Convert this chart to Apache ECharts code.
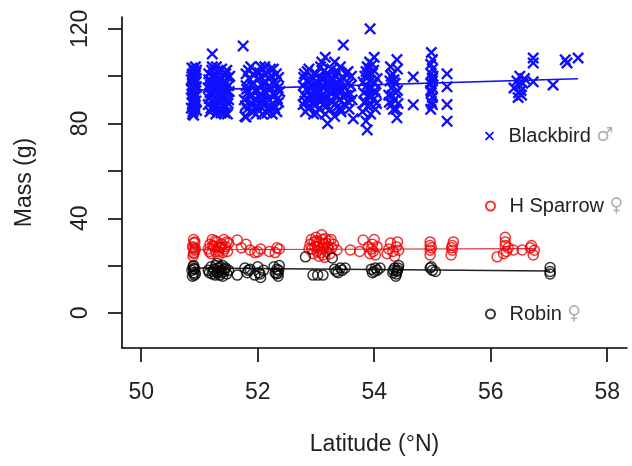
<!DOCTYPE html>
<html>
<head>
<meta charset="utf-8">
<script src="https://cdn.jsdelivr.net/npm/echarts@6/dist/echarts.min.js"></script>
<style>html,body{margin:0;padding:0;background:#fff}#c{width:632px;height:466px}</style>
</head>
<body>
<div id="c"></div>
<script>
// ---- data ----
var seriesNames = ['Blackbird', 'H Sparrow', 'Robin'];
var sexSymbols = ['♂', '♀', '♀'];
var xTicks = [50, 52, 54, 56, 58];
var yTicks = [0, 20, 40, 60, 80, 100, 120];
var yTickLabels = [0, 40, 80, 120];

var blackbird = [
[50.88,84],[50.9,86],[50.92,88],[50.89,90],[50.91,91],[50.9,93],[50.88,94],[50.93,95],[50.9,96],[50.91,97],[50.89,98],[50.92,99],[50.9,100],[50.88,101],[50.91,102],[50.9,103],[50.93,104],[50.89,85],[50.92,87],[50.9,89],[50.91,92],[50.88,96],[50.92,93],[50.9,99],
[50.86,86.5],[50.94,89.5],[50.87,92.5],[50.95,95.5],[50.86,98.5],[50.94,101.5],[50.87,103.5],[50.95,85.5],[50.88,88.5],[50.93,91.5],[50.86,94.5],[50.94,97.5],[50.88,100.5],[50.95,102.5],[50.9,83.5],
[51.15,88],[51.15,95],[51.16,101],[51.18,85],[51.2,92],[51.2,98],[51.22,104],[51.22,109.4],[51.24,87],[51.25,94],[51.26,100],[51.28,84],[51.3,90],[51.3,96],[51.31,102],[51.33,86],[51.35,93],[51.35,99],[51.37,89],[51.38,103],[51.4,85],[51.4,95],[51.42,91],[51.43,98],[51.45,87],[51.45,101],[51.47,93],[51.48,84],[51.5,96],[51.5,90],[51.52,100],[51.27,91],[51.33,97],[51.42,88],[51.18,93],[51.24,97],[51.38,94],[51.46,97],[51.29,104],[51.36,86],
[51.17,90.5],[51.19,96.5],[51.21,102.5],[51.23,89.5],[51.25,86.5],[51.27,99.5],[51.29,93.5],[51.31,87.5],[51.33,101.5],[51.35,95.5],[51.37,84.5],[51.39,91.5],[51.41,100.5],[51.43,86.5],[51.45,94.5],[51.47,102.5],[51.49,88.5],[51.51,93.5],[51.16,98.5],[51.2,86.5],[51.26,103],[51.34,90],[51.4,97.5],[51.46,90.5],[51.5,99.5],[51.3,98.5],[51.22,95],[51.44,84.5],
[51.75,112.8],[51.78,83],[51.77,90],[51.8,96],[51.8,101],[51.82,86],[51.83,93],[51.85,99],[51.87,88],[51.88,104],[51.9,92],[51.92,85],[51.93,97],[51.95,90],[51.97,102],[52.0,86],[52.0,94],[52.02,99],[52.04,89],[52.05,104],[52.07,92],[52.08,84],[52.1,97],[52.12,88],[52.13,101],[52.15,93],[52.17,86],[52.18,99],[52.2,90],[52.22,103],[52.23,95],[52.25,84],[52.27,88],[52.28,98],[52.3,92],[52.32,101],[52.33,85],[52.35,95],[52.36,89],[51.8,82.8],
[51.79,87.5],[51.81,94.5],[51.84,102.5],[51.86,91.5],[51.89,96.5],[51.91,88.5],[51.94,100.5],[51.96,94],[51.99,87.5],[52.01,91.5],[52.03,101.5],[52.06,96.5],[52.09,89.5],[52.11,93.5],[52.14,97.5],[52.16,84.5],[52.19,95.5],[52.21,87.5],[52.24,100],[52.26,92.5],[52.29,86.5],[52.31,96.5],[52.34,90.5],[52.36,99.5],[52.38,93.5],[51.97,84],[52.12,104],[52.27,103],
[52.78,88],[52.78,96],[52.8,92],[52.8,101],[52.82,85],[52.84,98],[52.86,90],[52.87,94],[52.88,103],[52.9,87],[52.92,96],[52.93,91],[52.95,99],[52.96,84],[52.98,93],[53.0,88],[53.0,101],[53.02,95],[53.04,90],[53.05,97],[53.06,86],[53.08,104],[53.1,92],[53.1,99],[53.12,88],[53.14,95],[53.16,108],[53.16,84],[53.18,101],[53.2,91],[53.22,97],[53.24,86],[53.25,93],[53.27,103],[53.28,89],[53.3,96],[53.32,83],[53.33,100],[53.35,92],[53.36,87],[53.38,97],[53.4,90],[53.42,104],[53.43,85],[53.45,94],[53.47,113.2],[53.47,99],[53.5,88],[53.52,92],[53.55,102],[53.57,86],[53.6,96],[53.62,90],[53.64,82],[53.1,106],[53.32,106],[53.2,80],
[52.79,99.5],[52.81,89.5],[52.83,94.5],[52.85,102],[52.87,86.5],[52.89,97.5],[52.91,92.5],[52.94,88.5],[52.97,101],[52.99,96.5],[53.01,84.5],[53.03,92.5],[53.07,99.5],[53.09,89.5],[53.11,95.5],[53.13,102],[53.15,91],[53.17,97.5],[53.19,87.5],[53.21,94],[53.23,100.5],[53.26,90],[53.29,98.5],[53.31,93.5],[53.34,88.5],[53.37,102],[53.39,94.5],[53.41,86.5],[53.44,98],[53.46,91.5],[53.49,95.5],[53.51,101],[53.54,89.5],[53.56,97],[53.59,92.5],[53.61,100],[53.05,93],[53.25,96],[53.15,99],[53.35,96],
[53.93,120],[53.88,77.3],[53.8,85],[53.82,93],[53.84,100],[53.85,89],[53.87,96],[53.88,104],[53.9,87],[53.9,92],[53.92,98],[53.94,84],[53.95,95],[53.96,101],[53.98,90],[54.0,97],[54.0,108],[54.02,86],[54.03,93],[54.05,99],[53.86,81],[53.97,105],
[53.81,97.5],[53.83,89],[53.86,102],[53.89,94.5],[53.91,100.5],[53.93,88.5],[53.96,91.5],[53.99,102.5],[54.01,94],[54.04,88.5],[53.92,106],
[54.25,92],[54.27,98],[54.3,88],[54.3,95],[54.32,101],[54.35,90],[54.36,97],[54.38,86],[54.39,107],[54.39,82.4],[54.4,94],[54.4,103],[54.28,104],
[54.26,89],[54.29,100],[54.31,92],[54.34,98.5],[54.37,93],[54.41,88.5],[54.33,86],
[54.67,99.7],[54.67,87.9],
[54.97,86],[54.98,89],[55.0,91],[54.98,93],[55.0,95],[54.97,97],[55.0,99],[54.98,101],[55.0,103],[54.97,105],[55.0,107],[54.98,110],[55.0,88],[54.97,94],[55.0,98],[55.01,100],
[55.25,101],[55.25,95.5],[55.25,88],[55.25,81],
[56.4,95],[56.45,98],[56.48,93],[56.5,96],[56.5,100],[56.52,94],[56.55,97],[56.47,91],[56.58,99],[56.53,92],
[56.73,107.7],[56.73,105.6],[56.73,97.6],[57.07,96.3],[57.28,106.9],[57.31,105.6],[57.5,107.7]
];

var sparrow = [
[50.9,25],[50.92,26.5],[50.88,28],[50.91,29.5],[50.9,31],[50.93,27],[50.89,24],[50.92,30],[50.9,27.5],[50.91,25.5],
[51.15,27],[51.18,29],[51.2,25],[51.22,31],[51.25,28],[51.28,26],[51.3,30],[51.32,24],[51.35,27.5],[51.38,29],[51.4,25.5],[51.42,31],[51.45,28],[51.48,26],[51.5,29.5],
[51.17,26],[51.23,28.5],[51.27,30.5],[51.33,26],[51.37,28],[51.43,27],[51.47,30],
[51.65,30.8],[51.72,27.5],[51.8,29],[51.87,26.6],[51.95,25.5],[52.0,25.8],[52.05,27],[52.2,26],[52.33,27.5],[52.3,25.5],[52.37,27],
[52.88,27],[52.9,29],[52.92,31],[52.95,25],[52.98,28],[53.0,32],[53.02,26],[53.05,30],[53.07,27],[53.1,33],[53.12,24.5],[53.14,29],[53.16,31.5],[53.18,26],[53.2,28],[53.22,30.5],[53.24,25],[53.27,27.5],[53.3,29],[53.05,24],[53.15,23.5],
[52.93,27],[52.97,30],[53.03,28],[53.08,25.5],[53.13,27.5],[53.17,29.5],[53.21,27],[53.26,31],[53.11,31],[53.01,30.5],
[53.36,26.6],[53.59,26.6],[53.75,26],[53.81,30.8],[53.9,28],
[53.93,25],[53.95,27],[53.97,29],[54.0,31],[54.02,24.5],[54.05,28],[53.98,26],
[54.22,25],[54.25,27],[54.28,29.5],[54.32,26],[54.35,24],[54.38,28],[54.4,30],[54.42,26.5],
[54.96,24.5],[54.96,26.5],[54.96,28.5],[54.96,30],[54.98,27.5],
[55.32,24.5],[55.34,26.5],[55.34,28.5],[55.36,30],[55.33,27.5],
[56.11,23.7],[56.25,32],[56.25,30],[56.25,28.5],[56.27,26],[56.22,25],[56.39,26.6],[56.54,26.6],[56.68,27.5],[56.73,24.5],[56.75,26.5],[56.7,28.5],[56.3,27.5]
];

var robin = [
[50.88,15.5],[50.9,17],[50.92,18.5],[50.89,19.5],[50.91,16],[50.9,20],[50.87,18],[50.93,16.5],[50.9,18.8],
[51.15,18],[51.2,19.5],[51.22,16.5],[51.25,18.5],[51.28,20],[51.3,17],[51.32,19],[51.35,16],[51.37,18],[51.4,20],[51.42,17.5],[51.45,19],[51.47,16.5],[51.5,18],[51.3,21],[51.4,15.5],
[51.17,17],[51.24,17.5],[51.33,17.5],[51.36,19.5],[51.43,18.5],[51.27,16],[51.39,17],
[51.65,16],[51.78,19],[51.82,17],[51.84,18],[51.87,18.5],[51.95,16],[52.0,19.5],[52.02,17],[52.04,16.5],[52.05,15],[52.1,18],[52.28,19.5],[52.3,17],[52.32,16.5],[52.33,18.5],[52.35,15.5],[52.36,18],[52.37,20],[52.35,16.8],
[52.82,23.7],[52.95,16],[53.03,16],[53.12,16],[53.28,23.2],[53.32,18.5],[53.35,17.5],[53.38,17],[53.42,19],[53.45,18],[53.5,19],
[53.95,18.5],[53.97,17],[54.0,17.5],[54.02,19],[54.05,18],[54.1,19],
[54.32,17],[54.33,18],[54.35,19],[54.37,15.5],[54.39,17.5],[54.4,18],[54.41,19],[54.42,20],[54.38,16.5],
[54.96,19],[55.0,18],[55.05,17.5],[54.98,19.5],
[57.02,19.2],[57.02,17.5],[57.02,16.5]
];

// fitted regression lines (endpoints)
var blackbirdFit = [[50.88,94.1],[57.5,98.9]];
var sparrowFit = [[50.88,26.7],[56.75,27.2]];
var robinFit = [[50.88,19.0],[57.02,17.7]];

var colors = ['#1010ff', '#ee0000', '#000000'];

// ---- chart ----
var FONT = 'Liberation Sans, Arial, Helvetica, sans-serif';
var xPath = 'path://M0,1.4L1.4,0L5,3.6L8.6,0L10,1.4L6.4,5L10,8.6L8.6,10L5,6.4L1.4,10L0,8.6L3.6,5Z';

var chart = echarts.init(document.getElementById('c'), null, {renderer: 'canvas'});

function axisCommon() {
  return {
    type: 'value',
    splitLine: {show: false},
    axisLine: {show: true, onZero: false, lineStyle: {color: '#000', width: 1.6}},
    axisTick: {show: true, inside: false, length: 14, lineStyle: {color: '#000', width: 1.6}},
    nameLocation: 'middle',
    nameTextStyle: {fontFamily: FONT, fontSize: 23, color: '#222'}
  };
}

var xAxis = axisCommon();
xAxis.min = 49.67; xAxis.max = 58.34;
xAxis.axisTick.customValues = xTicks;
xAxis.axisLabel = {customValues: xTicks, margin: 33, fontFamily: FONT, fontSize: 23, color: '#222'};
xAxis.name = 'Latitude (°N)';
xAxis.nameGap = 85;

var yAxis = axisCommon();
yAxis.min = -14.8; yAxis.max = 125;
yAxis.axisTick.customValues = yTicks;
yAxis.axisLabel = {customValues: yTickLabels, rotate: 90, margin: 30, fontFamily: FONT, fontSize: 23, color: '#222'};
yAxis.name = 'Mass (g)';
yAxis.nameGap = 86;

function legendFor(i, top) {
  return {
    data: [seriesNames[i]],
    left: 485, top: top, padding: 0,
    itemWidth: 28, itemHeight: 9,
    formatter: function (n) { return n + ' {s|' + sexSymbols[i] + '}'; },
    textStyle: {fontFamily: FONT, fontSize: 20, color: '#222',
      rich: {s: {fontFamily: 'DejaVu Sans', fontSize: 19, color: '#b0b0b0'}}}
  };
}

function fitLine(data, color, w) {
  return {type: 'line', data: data, symbol: 'none', silent: true, z: 1,
    lineStyle: {color: color, width: w}, legendHoverLink: false};
}

var option = {
  animation: false,
  backgroundColor: '#fff',
  grid: {left: 122, top: 17, right: 5, bottom: 118},
  xAxis: xAxis,
  yAxis: yAxis,
  legend: [legendFor(0, 126), legendFor(1, 196), legendFor(2, 304)],
  series: [
    fitLine(blackbirdFit, colors[0], 1.6),
    fitLine(sparrowFit, '#e03040', 1.2),
    fitLine(robinFit, '#222', 1.6),
    {name: seriesNames[0], type: 'scatter', data: blackbird, symbol: xPath, symbolSize: 12, z: 3,
      itemStyle: {color: colors[0], opacity: 1}},
    {name: seriesNames[1], type: 'scatter', data: sparrow, symbol: 'circle', symbolSize: 10, z: 3,
      itemStyle: {color: 'rgba(0,0,0,0)', borderColor: colors[1], borderWidth: 1.5}},
    {name: seriesNames[2], type: 'scatter', data: robin, symbol: 'circle', symbolSize: 10, z: 3,
      itemStyle: {color: 'rgba(0,0,0,0)', borderColor: colors[2], borderWidth: 1.5}}
  ]
};
chart.setOption(option);
</script>
</body>
</html>
